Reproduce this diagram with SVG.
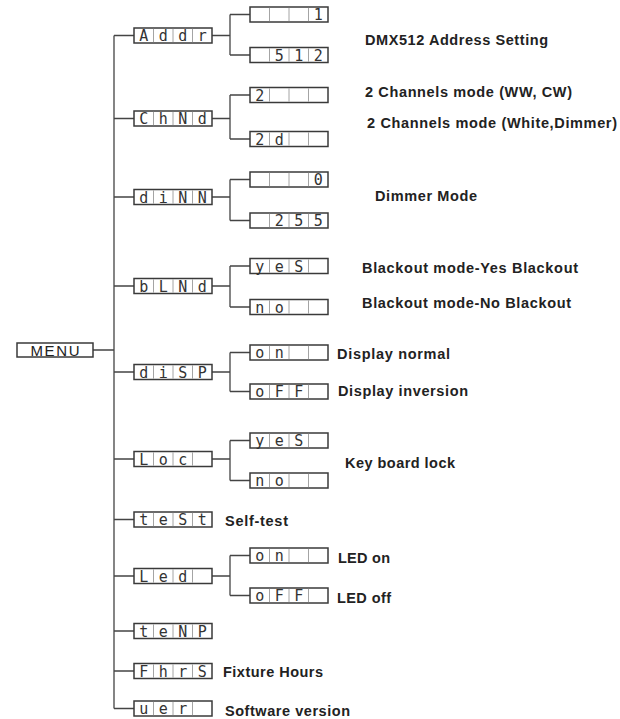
<svg xmlns="http://www.w3.org/2000/svg" xmlns:xlink="http://www.w3.org/1999/xlink" width="620" height="719" viewBox="0 0 620 719">
<style>
.bg{fill:#ffffff}
.conn{fill:none;stroke:#444;stroke-width:1.3}
.box{fill:#fff;stroke:#3a3a3a;stroke-width:1.5}
.div{fill:none;stroke:#9a9a9a;stroke-width:0.9}
.seg{font-family:"DejaVu Sans Mono","Liberation Mono",monospace;font-size:15px;fill:#333;text-anchor:middle}
.lbl{font-family:"Liberation Sans",Arial,sans-serif;font-size:14.5px;font-weight:bold;fill:#222}
.menu{font-family:"Liberation Sans",Arial,sans-serif;font-size:15px;fill:#222;text-anchor:middle}
</style>
<defs>
<g id="cells"><rect class="box" x="0" y="0" width="78" height="15"/><path class="div" d="M19.5 0.8V14.2M39 0.8V14.2M58.5 0.8V14.2"/></g>
</defs>
<rect class="bg" x="0" y="0" width="620" height="719"/>
<g id="connectors">
<path class="conn" d="M114 35.5V708.5M93 350H114"/>
<path class="conn" d="M114 35.5H134M114 118.5H134M114 197H134M114 286H134M114 372H134M114 459H134M114 519.5H134M114 576H134M114 631H134M114 671H134M114 708.5H134"/>
<path class="conn" d="M212 35.5H230M230 14.5V55M230 14.5H250M230 55H250"/>
<path class="conn" d="M212 118.5H230M230 95V139M230 95H250M230 139H250"/>
<path class="conn" d="M212 197H230M230 179.5V220.5M230 179.5H250M230 220.5H250"/>
<path class="conn" d="M212 286H230M230 266V307M230 266H250M230 307H250"/>
<path class="conn" d="M212 372H230M230 352.5V391.5M230 352.5H250M230 391.5H250"/>
<path class="conn" d="M212 459H230M230 440.5V480.5M230 440.5H250M230 480.5H250"/>
<path class="conn" d="M212 576H230M230 555.5V595.5M230 555.5H250M230 595.5H250"/>
</g>
<g id="menu"><rect class="box" x="17" y="343" width="76" height="14"/><text class="menu" x="55" y="355.5" textLength="49">MENU</text></g>
<g id="addr"><use xlink:href="#cells" x="134" y="28"/><text class="seg" y="41"><tspan x="143.75">A</tspan><tspan x="163.25">d</tspan><tspan x="182.75">d</tspan><tspan x="202.25">r</tspan></text></g>
<g id="addr-1"><use xlink:href="#cells" x="250" y="7"/><text class="seg" y="20"><tspan x="318.25">1</tspan></text></g>
<g id="addr-512"><use xlink:href="#cells" x="250" y="47.5"/><text class="seg" y="60.5"><tspan x="279.25">5</tspan><tspan x="298.75">1</tspan><tspan x="318.25">2</tspan></text></g>
<g id="chnd"><use xlink:href="#cells" x="134" y="111"/><text class="seg" y="124"><tspan x="143.75">C</tspan><tspan x="163.25">h</tspan><tspan x="182.75">N</tspan><tspan x="202.25">d</tspan></text></g>
<g id="chnd-2"><use xlink:href="#cells" x="250" y="87.5"/><text class="seg" y="100.5"><tspan x="259.75">2</tspan></text></g>
<g id="chnd-2d"><use xlink:href="#cells" x="250" y="131.5"/><text class="seg" y="144.5"><tspan x="259.75">2</tspan><tspan x="279.25">d</tspan></text></g>
<g id="dinn"><use xlink:href="#cells" x="134" y="189.5"/><text class="seg" y="202.5"><tspan x="143.75">d</tspan><tspan x="163.25">i</tspan><tspan x="182.75">N</tspan><tspan x="202.25">N</tspan></text></g>
<g id="dinn-0"><use xlink:href="#cells" x="250" y="172"/><text class="seg" y="185"><tspan x="318.25">0</tspan></text></g>
<g id="dinn-255"><use xlink:href="#cells" x="250" y="213"/><text class="seg" y="226"><tspan x="279.25">2</tspan><tspan x="298.75">5</tspan><tspan x="318.25">5</tspan></text></g>
<g id="blnd"><use xlink:href="#cells" x="134" y="278.5"/><text class="seg" y="291.5"><tspan x="143.75">b</tspan><tspan x="163.25">L</tspan><tspan x="182.75">N</tspan><tspan x="202.25">d</tspan></text></g>
<g id="blnd-yes"><use xlink:href="#cells" x="250" y="258.5"/><text class="seg" y="271.5"><tspan x="259.75">y</tspan><tspan x="279.25">e</tspan><tspan x="298.75">S</tspan></text></g>
<g id="blnd-no"><use xlink:href="#cells" x="250" y="299.5"/><text class="seg" y="312.5"><tspan x="259.75">n</tspan><tspan x="279.25">o</tspan></text></g>
<g id="disp"><use xlink:href="#cells" x="134" y="364.5"/><text class="seg" y="377.5"><tspan x="143.75">d</tspan><tspan x="163.25">i</tspan><tspan x="182.75">S</tspan><tspan x="202.25">P</tspan></text></g>
<g id="disp-on"><use xlink:href="#cells" x="250" y="345"/><text class="seg" y="358"><tspan x="259.75">o</tspan><tspan x="279.25">n</tspan></text></g>
<g id="disp-off"><use xlink:href="#cells" x="250" y="384"/><text class="seg" y="397"><tspan x="259.75">o</tspan><tspan x="279.25">F</tspan><tspan x="298.75">F</tspan></text></g>
<g id="loc"><use xlink:href="#cells" x="134" y="451.5"/><text class="seg" y="464.5"><tspan x="143.75">L</tspan><tspan x="163.25">o</tspan><tspan x="182.75">c</tspan></text></g>
<g id="loc-yes"><use xlink:href="#cells" x="250" y="433"/><text class="seg" y="446"><tspan x="259.75">y</tspan><tspan x="279.25">e</tspan><tspan x="298.75">S</tspan></text></g>
<g id="loc-no"><use xlink:href="#cells" x="250" y="473"/><text class="seg" y="486"><tspan x="259.75">n</tspan><tspan x="279.25">o</tspan></text></g>
<g id="test"><use xlink:href="#cells" x="134" y="512"/><text class="seg" y="525"><tspan x="143.75">t</tspan><tspan x="163.25">e</tspan><tspan x="182.75">S</tspan><tspan x="202.25">t</tspan></text></g>
<g id="led"><use xlink:href="#cells" x="134" y="568.5"/><text class="seg" y="581.5"><tspan x="143.75">L</tspan><tspan x="163.25">e</tspan><tspan x="182.75">d</tspan></text></g>
<g id="led-on"><use xlink:href="#cells" x="250" y="548"/><text class="seg" y="561"><tspan x="259.75">o</tspan><tspan x="279.25">n</tspan></text></g>
<g id="led-off"><use xlink:href="#cells" x="250" y="588"/><text class="seg" y="601"><tspan x="259.75">o</tspan><tspan x="279.25">F</tspan><tspan x="298.75">F</tspan></text></g>
<g id="temp"><use xlink:href="#cells" x="134" y="623.5"/><text class="seg" y="636.5"><tspan x="143.75">t</tspan><tspan x="163.25">e</tspan><tspan x="182.75">N</tspan><tspan x="202.25">P</tspan></text></g>
<g id="fhrs"><use xlink:href="#cells" x="134" y="663.5"/><text class="seg" y="676.5"><tspan x="143.75">F</tspan><tspan x="163.25">h</tspan><tspan x="182.75">r</tspan><tspan x="202.25">S</tspan></text></g>
<g id="ver"><use xlink:href="#cells" x="134" y="701"/><text class="seg" y="714"><tspan x="143.75">u</tspan><tspan x="163.25">e</tspan><tspan x="182.75">r</tspan></text></g>
<g id="labels">
<text class="lbl" x="365" y="45" textLength="183">DMX512 Address Setting</text>
<text class="lbl" x="365" y="96.5" textLength="207">2 Channels mode (WW, CW)</text>
<text class="lbl" x="367" y="128" textLength="250">2 Channels mode (White,Dimmer)</text>
<text class="lbl" x="375" y="200.5" textLength="102">Dimmer Mode</text>
<text class="lbl" x="362" y="273" textLength="216">Blackout mode-Yes Blackout</text>
<text class="lbl" x="362" y="308" textLength="209">Blackout mode-No Blackout</text>
<text class="lbl" x="337" y="359" textLength="113">Display normal</text>
<text class="lbl" x="338" y="396" textLength="130">Display inversion</text>
<text class="lbl" x="345" y="467.5" textLength="110">Key board lock</text>
<text class="lbl" x="225" y="525.5" textLength="63">Self-test</text>
<text class="lbl" x="338" y="562.5" textLength="52">LED on</text>
<text class="lbl" x="337" y="602.5" textLength="54">LED off</text>
<text class="lbl" x="223" y="677" textLength="100">Fixture Hours</text>
<text class="lbl" x="225" y="715.5" textLength="125">Software version</text>
</g>
</svg>
